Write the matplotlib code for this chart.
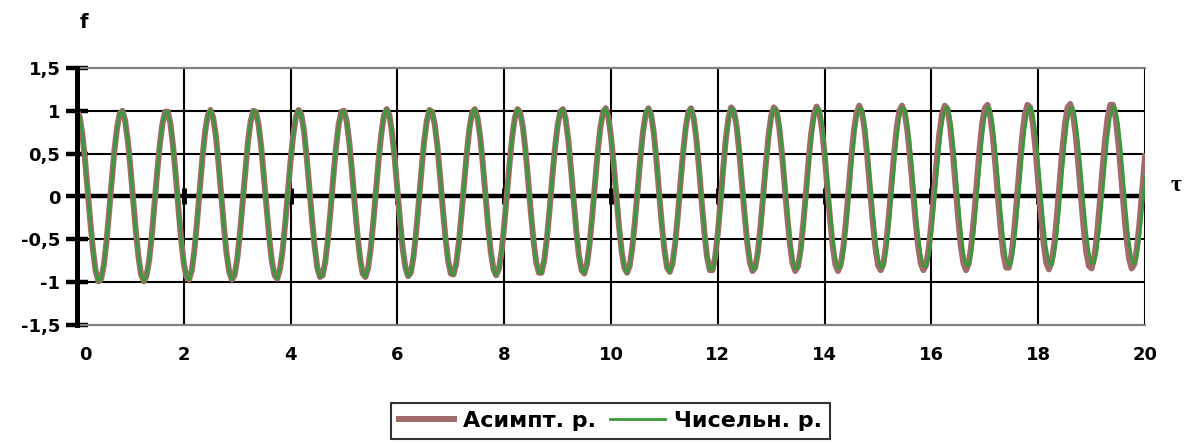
import numpy as np
import matplotlib
matplotlib.use("Agg")
import matplotlib.pyplot as plt
from matplotlib.transforms import ScaledTranslation

# ---------------- data ----------------
tau_step = 0.05  # sampling step of both series along tau (0 .. 20)

# numerical solution ("Чисельн. р."), tau = 0, 0.05, ..., 20
chisl = [
    1.00, 0.93, 0.73, 0.43, 0.07, -0.30, -0.63, -0.87, -0.99, -0.97, -0.81, -0.54, -0.19, 0.18, 0.53, 0.80, 0.97,
    1.00, 0.89, 0.66, 0.34, -0.03, -0.39, -0.70, -0.91, -0.99, -0.93, -0.75, -0.46, -0.10, 0.27, 0.60, 0.85, 0.99,
    0.99, 0.85, 0.58, 0.24, -0.14, -0.50, -0.78, -0.94, -0.97, -0.86, -0.62, -0.28, 0.09, 0.46, 0.76, 0.95,
    1.01, 0.92, 0.71, 0.39, 0.03, -0.34, -0.66, -0.88, -0.97, -0.92, -0.73, -0.44, -0.08, 0.29, 0.63, 0.87, 1.00,
    0.99, 0.84, 0.58, 0.23, -0.13, -0.48, -0.76, -0.92, -0.96, -0.85, -0.63, -0.31, 0.05, 0.42, 0.72, 0.93, 1.01,
    0.96, 0.77, 0.47, 0.11, -0.26, -0.58, -0.83, -0.94, -0.92, -0.76, -0.49, -0.15, 0.23, 0.57, 0.84, 0.99,
    1.00, 0.88, 0.63, 0.29, -0.08, -0.43, -0.72, -0.90, -0.94, -0.84, -0.61, -0.29, 0.08, 0.44, 0.74, 0.95,
    1.02, 0.95, 0.74, 0.44, 0.08, -0.29, -0.61, -0.83, -0.93, -0.89, -0.71, -0.42, -0.07, 0.30, 0.64, 0.88, 1.01,
    0.99, 0.84, 0.58, 0.23, -0.14, -0.48, -0.75, -0.90, -0.91, -0.79, -0.54, -0.21, 0.16, 0.51, 0.80, 0.98,
    1.02, 0.92, 0.70, 0.38, 0.01, -0.35, -0.65, -0.85, -0.92, -0.85, -0.65, -0.34, 0.02, 0.38, 0.70, 0.92, 1.02,
    0.98, 0.81, 0.53, 0.18, -0.19, -0.52, -0.77, -0.89, -0.89, -0.74, -0.49, -0.15, 0.22, 0.56, 0.83, 0.99,
    1.02, 0.91, 0.66, 0.33, -0.04, -0.40, -0.69, -0.86, -0.90, -0.79, -0.55, -0.22, 0.15, 0.51, 0.80, 0.98,
    1.03, 0.93, 0.70, 0.38, 0.01, -0.35, -0.64, -0.83, -0.89, -0.81, -0.59, -0.28, 0.09, 0.45, 0.76, 0.96,
    1.03, 0.96, 0.75, 0.43, 0.05, -0.32, -0.62, -0.82, -0.88, -0.79, -0.57, -0.24, 0.13, 0.50, 0.80, 0.99,
    1.03, 0.93, 0.68, 0.34, -0.04, -0.40, -0.69, -0.85, -0.86, -0.73, -0.46, -0.11, 0.27, 0.63, 0.89, 1.03,
    1.01, 0.85, 0.58, 0.23, -0.14, -0.48, -0.73, -0.86, -0.84, -0.69, -0.41, -0.06, 0.31, 0.65, 0.90, 1.03,
    1.01, 0.86, 0.59, 0.24, -0.13, -0.47, -0.72, -0.85, -0.83, -0.68, -0.40, -0.06, 0.31, 0.65, 0.90, 1.03,
    1.02, 0.86, 0.59, 0.24, -0.13, -0.46, -0.71, -0.84, -0.82, -0.67, -0.40, -0.05, 0.32, 0.65, 0.91, 1.03,
    1.02, 0.86, 0.59, 0.25, -0.12, -0.45, -0.70, -0.83, -0.82, -0.66, -0.39, -0.04, 0.32, 0.66, 0.91, 1.04,
    1.02, 0.87, 0.62, 0.28, -0.07, -0.41, -0.66, -0.81, -0.82, -0.70, -0.46, -0.14, 0.22, 0.56, 0.84, 1.01,
    1.05, 0.94, 0.70, 0.37, 0.00, -0.36, -0.64, -0.80, -0.81, -0.68, -0.42, -0.07, 0.30, 0.65, 0.91, 1.04,
    1.02, 0.86, 0.58, 0.23, -0.14, -0.47, -0.71, -0.81, -0.77, -0.58, -0.28, 0.08, 0.45, 0.77, 0.98,
    1.05, 0.98, 0.77, 0.45, 0.08, -0.28, -0.58, -0.76, -0.81, -0.70, -0.47, -0.14, 0.24, 0.59, 0.87, 1.03,
    1.04, 0.92, 0.66, 0.33, -0.04, -0.38, -0.64, -0.78, -0.78, -0.64, -0.38, -0.04, 0.33, 0.67, 0.92, 1.05,
    1.03, 0.86, 0.57, 0.20, -0.18, -0.51, -0.72, -0.79, -0.71, -0.47, -0.14, 0.24,
]

# asymptotic solution ("Асимпт. р."): coincides with the numerical one up to tau = 11,
# values from tau = 11.05 to 20:
asympt_tail = [
    -0.83, -0.88, -0.79, -0.56, -0.23, 0.15, 0.51, 0.81, 0.99,
    1.03, 0.91, 0.66, 0.32, -0.07, -0.43, -0.71, -0.86, -0.86, -0.71, -0.43, -0.07, 0.32, 0.67, 0.92, 1.04,
    1.00, 0.83, 0.53, 0.17, -0.20, -0.53, -0.77, -0.87, -0.83, -0.65, -0.35, 0.01, 0.38, 0.71, 0.94, 1.04,
    1.00, 0.81, 0.51, 0.15, -0.23, -0.55, -0.78, -0.87, -0.82, -0.63, -0.32, 0.04, 0.42, 0.74, 0.96, 1.05,
    0.99, 0.79, 0.49, 0.12, -0.25, -0.57, -0.79, -0.87, -0.80, -0.60, -0.29, 0.09, 0.46, 0.77, 0.98, 1.06,
    0.98, 0.78, 0.46, 0.09, -0.28, -0.59, -0.80, -0.86, -0.79, -0.57, -0.25, 0.12, 0.49, 0.80, 1.00, 1.06,
    0.98, 0.77, 0.46, 0.10, -0.26, -0.57, -0.78, -0.86, -0.80, -0.61, -0.31, 0.05, 0.42, 0.74, 0.96, 1.06,
    1.02, 0.83, 0.52, 0.14, -0.24, -0.57, -0.78, -0.86, -0.78, -0.55, -0.22, 0.16, 0.54, 0.85, 1.03, 1.07,
    0.95, 0.70, 0.35, -0.04, -0.40, -0.68, -0.83, -0.83, -0.68, -0.40, -0.04, 0.35, 0.70, 0.96, 1.07,
    1.04, 0.85, 0.55, 0.17, -0.21, -0.54, -0.77, -0.85, -0.77, -0.56, -0.23, 0.16, 0.53, 0.84, 1.04, 1.08,
    0.97, 0.73, 0.39, 0.01, -0.36, -0.65, -0.81, -0.84, -0.71, -0.45, -0.10, 0.29, 0.65, 0.92, 1.07,
    1.07, 0.92, 0.63, 0.27, -0.12, -0.47, -0.72, -0.84, -0.79, -0.60, -0.29, 0.09, 0.47,
]
common_count = 221  # samples tau = 0 .. 11.00
asympt = chisl[:common_count] + asympt_tail

series_labels = ["Асимпт. р.", "Чисельн. р."]
x_ticks = [0, 2, 4, 6, 8, 10, 12, 14, 16, 18, 20]
x_tick_labels = ["0", "2", "4", "6", "8", "10", "12", "14", "16", "18", "20"]
y_ticks = [-1.5, -1.0, -0.5, 0.0, 0.5, 1.0, 1.5]
y_tick_labels = ["-1,5", "-1", "-0,5", "0", "0,5", "1", "1,5"]
y_grid = [-1.0, -0.5, 0.5, 1.0]

# ---------------- figure ----------------
W, H = 1189, 444
fig = plt.figure(figsize=(W / 100, H / 100), dpi=100)
ax = fig.add_axes([77 / W, 1 - 325 / H, (1145 - 77) / W, (325 - 68) / H])
ax.set_xlim(0, 20)
ax.set_ylim(-1.5, 1.5)

# grid
for xv in x_ticks[1:]:
    ax.axvline(xv, color="black", lw=1.5, zorder=1)
for yv in y_grid:
    ax.axhline(yv, color="black", lw=1.5, zorder=1)

# x axis through zero with tick marks
ax.axhline(0, color="black", lw=3.2, zorder=2)
ax.plot(x_ticks[1:-1], [0] * len(x_ticks[1:-1]), ls="none", marker="|",
        ms=11, mew=3.5, color="black", zorder=2)

# spines
ax.spines["left"].set_color("black")
ax.spines["left"].set_linewidth(3.6)
ax.spines["left"].set_zorder(5)
ax.spines["right"].set_visible(False)
for s in ("top", "bottom"):
    ax.spines[s].set_color("#808080")
    ax.spines[s].set_linewidth(1.6)

# series
tau_a = np.arange(len(asympt)) * tau_step
tau_c = np.arange(len(chisl)) * tau_step
h1, = ax.plot(tau_a, asympt, color="#A06B6B", lw=4.3, zorder=3,
              solid_joinstyle="round", label=series_labels[0])
h2, = ax.plot(tau_c, chisl, color="#3A9A3A", lw=2.0, zorder=4,
              solid_joinstyle="round", label=series_labels[1])

# ticks
ax.set_xticks(x_ticks, x_tick_labels)
ax.set_yticks(y_ticks, y_tick_labels)
ax.tick_params(axis="x", length=0, pad=15, labelsize=13)
ax.tick_params(axis="y", direction="inout", length=16, width=3.2, pad=4,
               labelsize=13, color="black")
for t in ax.yaxis.get_major_ticks():
    t.tick1line.set_zorder(6)
    t.tick1line.set_solid_capstyle("round")
for lbl in ax.get_xticklabels() + ax.get_yticklabels():
    lbl.set_fontweight("bold")
first = ax.xaxis.get_major_ticks()[0].label1
first.set_transform(first.get_transform() + ScaledTranslation(8 / 100, 0, fig.dpi_scale_trans))

# axis titles
fig.text(84 / W, 1 - 22 / H, "f", ha="center", va="center", fontsize=14, fontweight="bold")
fig.text(1176 / W, 1 - 185 / H, "τ", ha="center", va="center", fontsize=17,
         fontweight="bold", family="Liberation Serif")

# legend
leg = fig.legend(handles=[h1, h2], labels=series_labels, loc="upper left",
                 bbox_to_anchor=(391 / W, 1 - 403 / H), bbox_transform=fig.transFigure,
                 ncol=2, frameon=True, fancybox=False, edgecolor="black",
                 prop={"weight": "bold", "size": 16}, handlelength=2.5,
                 handletextpad=0.4, columnspacing=0.6, borderpad=0.35,
                 borderaxespad=0)
leg.get_frame().set_linewidth(1.5)

fig.savefig("out.png", dpi=100)
